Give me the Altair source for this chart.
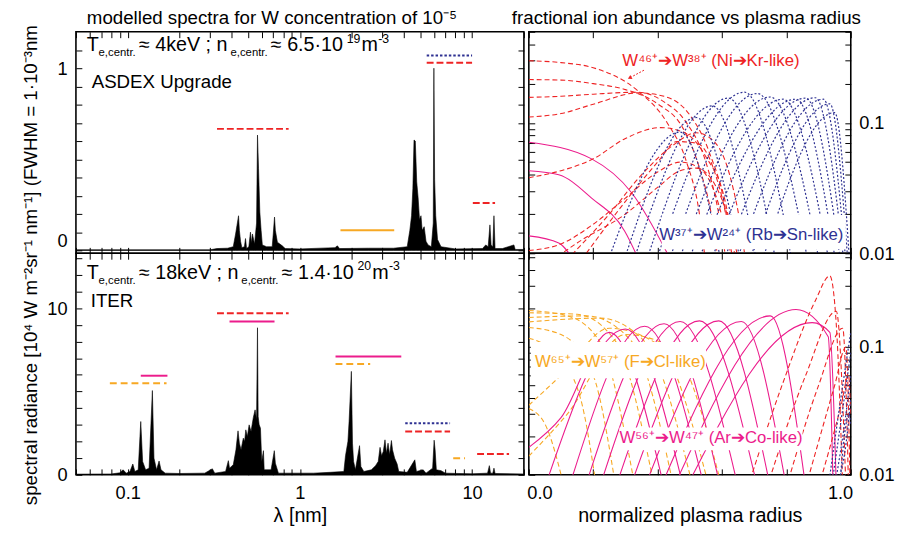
import altair as alt
import pandas as pd

FONT = "Liberation Sans"
RED = "#ee2324"
BLUE = "#2e3192"
MAGENTA = "#ec1c8c"
ORANGE = "#f7a823"

# ---------------- modelled spectra: (wavelength [nm], spectral radiance)
aug_spectrum = [
    (0.05, 0.003), (0.30, 0.003), (0.33, 0.01), (0.38, 0.012), (0.41, 0.02), (0.423, 0.09),
    (0.44, 0.19), (0.445, 0.11), (0.452, 0.05), (0.46, 0.015), (0.476, 0.02), (0.483, 0.065),
    (0.49, 0.01), (0.505, 0.02), (0.516, 0.10), (0.522, 0.04), (0.53, 0.09), (0.545, 0.035),
    (0.56, 0.15), (0.567, 0.633), (0.575, 0.448), (0.585, 0.21), (0.595, 0.11), (0.605, 0.03),
    (0.64, 0.02), (0.69, 0.02), (0.70, 0.09), (0.712, 0.183), (0.72, 0.11), (0.74, 0.045),
    (0.79, 0.025), (0.82, 0.01), (1.0, 0.008), (1.6, 0.015), (1.65, 0.025), (1.7, 0.01),
    (2.5, 0.012), (3.5, 0.012), (4.2, 0.02), (4.35, 0.11), (4.45, 0.19), (4.53, 0.34),
    (4.60, 0.606), (4.68, 0.60), (4.77, 0.376), (4.86, 0.288), (4.95, 0.17), (5.05, 0.19),
    (5.13, 0.11), (5.27, 0.13), (5.4, 0.05), (5.55, 0.03), (5.8, 0.02), (5.95, 0.15),
    (6.0, 1.0), (6.06, 0.39), (6.15, 0.19), (6.3, 0.06), (6.6, 0.02), (8.0, 0.008),
    (11.5, 0.01), (12.0, 0.03), (12.4, 0.02), (12.7, 0.14), (12.9, 0.03), (13.2, 0.02),
    (13.4, 0.19), (13.6, 0.01), (15.0, 0.01), (17.5, 0.03), (17.8, 0.005), (20.0, 0.005),
]
iter_spectrum = [
    (0.05, 0.04), (0.08, 0.05), (0.09, 0.12), (0.094, 0.3), (0.098, 0.1), (0.103, 0.2),
    (0.107, 0.65), (0.11, 0.2), (0.115, 0.3), (0.119, 3.2), (0.122, 0.8), (0.127, 0.3),
    (0.133, 0.4), (0.139, 5.06), (0.142, 1.0), (0.147, 0.3), (0.152, 0.83), (0.156, 0.3),
    (0.165, 0.1), (0.2, 0.08), (0.28, 0.1), (0.31, 0.36), (0.32, 0.1), (0.37, 0.2),
    (0.384, 0.85), (0.39, 0.4), (0.41, 0.6), (0.425, 1.5), (0.437, 2.64), (0.445, 1.9),
    (0.455, 1.5), (0.469, 2.2), (0.477, 2.0), (0.485, 2.7), (0.495, 2.3), (0.507, 3.0),
    (0.52, 2.6), (0.536, 3.43), (0.549, 3.9), (0.56, 3.3), (0.567, 8.83), (0.572, 3.5),
    (0.58, 3.0), (0.59, 2.8), (0.6, 0.8), (0.614, 1.45), (0.62, 0.3), (0.68, 0.3),
    (0.71, 1.45), (0.72, 0.7), (0.735, 0.4), (0.75, 0.1), (0.9, 0.1), (1.2, 0.1),
    (1.5, 0.15), (1.8, 0.2), (1.84, 1.15), (1.9, 2.0), (1.93, 3.2), (1.99, 6.21),
    (2.02, 1.9), (2.05, 0.8), (2.1, 0.3), (2.22, 1.75), (2.26, 0.5), (2.35, 0.2),
    (2.6, 0.3), (2.75, 0.55), (2.85, 0.8), (2.92, 1.65), (2.98, 1.15), (3.05, 1.4),
    (3.12, 2.1), (3.18, 1.3), (3.25, 1.9), (3.32, 1.2), (3.4, 2.06), (3.45, 1.5),
    (3.55, 1.0), (3.67, 0.65), (3.75, 0.2), (4.2, 0.15), (4.65, 0.9), (4.75, 0.2),
    (5.2, 0.3), (5.4, 0.1), (5.9, 0.4), (6.02, 2.08), (6.1, 1.5), (6.2, 0.3),
    (6.6, 0.25), (7.0, 0.1), (10.0, 0.06), (12.3, 0.1), (12.6, 0.55), (12.8, 0.1),
    (13.2, 0.1), (13.4, 0.4), (13.6, 0.08), (20.0, 0.05),
]

# ion-range markers: (lambda from, lambda to, level)
aug_red_dashed = [(0.33, 0.86, 0.667), (5.45, 10.0, 1.03), (10.1, 13.6, 0.26)]
aug_blue_dotted = [(5.45, 10.0, 1.07)]
aug_orange_solid = [(1.72, 3.53, 0.11)]
iter_red_dashed = [(0.33, 0.86, 9.7), (4.09, 7.45, 2.6), (10.7, 16.4, 1.25)]
iter_blue_dotted = [(4.09, 7.45, 3.1)]
iter_magenta_solid = [(0.119, 0.17, 5.95), (0.39, 0.712, 9.2), (1.61, 3.88, 7.1)]
iter_orange_dashed = [(0.0787, 0.168, 5.5), (1.61, 2.56, 6.65), (7.77, 9.1, 1.0)]

# ---------------- fractional abundance curves: list of (radius, fraction) per ion
aug_ni_kr = [
    [(0, 0.30), (0.1, 0.29), (0.2, 0.265), (0.34, 0.175), (0.43, 0.10), (0.49, 0.05), (0.53, 0.02), (0.55, 0.008)],
    [(0, 0.215), (0.1, 0.213), (0.2, 0.2), (0.3, 0.18), (0.4, 0.14), (0.48, 0.09), (0.53, 0.045), (0.57, 0.018), (0.59, 0.008)],
    [(0, 0.157), (0.1, 0.16), (0.2, 0.166), (0.34, 0.172), (0.42, 0.145), (0.49, 0.10), (0.55, 0.05), (0.59, 0.02), (0.615, 0.008)],
    [(0, 0.111), (0.1, 0.118), (0.2, 0.139), (0.34, 0.17), (0.42, 0.16), (0.5, 0.115), (0.56, 0.06), (0.61, 0.022), (0.635, 0.008)],
    [(0, 0.038), (0.1, 0.043), (0.2, 0.053), (0.3, 0.076), (0.41, 0.092), (0.48, 0.085), (0.55, 0.055), (0.61, 0.025), (0.645, 0.008)],
    [(0, 0.0105), (0.1, 0.0118), (0.2, 0.0167), (0.3, 0.0265), (0.4, 0.042), (0.47, 0.05), (0.53, 0.045), (0.58, 0.028), (0.62, 0.012), (0.635, 0.008)],
    [(0.05, 0.008), (0.15, 0.012), (0.3, 0.02), (0.4, 0.032), (0.47, 0.043), (0.52, 0.045), (0.58, 0.033), (0.63, 0.015), (0.655, 0.008)],
    [(0.1, 0.008), (0.25, 0.02), (0.35, 0.04), (0.45, 0.068), (0.52, 0.084), (0.58, 0.07), (0.63, 0.035), (0.66, 0.015), (0.675, 0.008)],
    [(0.15, 0.008), (0.3, 0.025), (0.4, 0.05), (0.46, 0.072), (0.52, 0.07), (0.58, 0.04), (0.62, 0.015), (0.635, 0.008)],
]
aug_rb_sn = [
    [(0.24, 0.008), (0.47, 0.085), (0.60, 0.008)],
    [(0.29, 0.008), (0.52, 0.11), (0.66, 0.008)],
    [(0.32, 0.008), (0.57, 0.135), (0.71, 0.008)],
    [(0.36, 0.008), (0.62, 0.155), (0.77, 0.008)],
    [(0.39, 0.008), (0.67, 0.172), (0.82, 0.008)],
    [(0.43, 0.008), (0.71, 0.168), (0.87, 0.008)],
    [(0.46, 0.008), (0.75, 0.158), (0.905, 0.008)],
    [(0.49, 0.008), (0.79, 0.152), (0.935, 0.008)],
    [(0.52, 0.008), (0.83, 0.152), (0.955, 0.008)],
    [(0.56, 0.008), (0.86, 0.155), (0.97, 0.008)],
    [(0.60, 0.008), (0.89, 0.156), (0.98, 0.008)],
    [(0.64, 0.008), (0.915, 0.152), (0.986, 0.008)],
    [(0.68, 0.008), (0.935, 0.14), (0.992, 0.008)],
    [(0.72, 0.008), (0.95, 0.12), (0.997, 0.008)],
]
aug_ar_co = [
    [(0, 0.071), (0.195, 0.053), (0.32, 0.029), (0.43, 0.01), (0.45, 0.008)],
    [(0, 0.043), (0.093, 0.04), (0.195, 0.0265), (0.297, 0.0149), (0.35, 0.008)],
    [(0, 0.0136), (0.093, 0.012), (0.15, 0.008)],
]
iter_f_cl = [
    [(0, 0.033), (0.05, 0.025), (0.11, 0.008)],
    [(0, 0.117), (0.08, 0.09), (0.16, 0.04), (0.21, 0.008)],
    [(0, 0.142), (0.1, 0.125), (0.2, 0.06), (0.27, 0.008)],
    [(0, 0.193), (0.12, 0.175), (0.22, 0.11), (0.33, 0.008)],
    [(0, 0.185), (0.15, 0.18), (0.27, 0.11), (0.39, 0.008)],
    [(0, 0.17), (0.18, 0.175), (0.32, 0.11), (0.45, 0.008)],
    [(0, 0.157), (0.22, 0.168), (0.36, 0.11), (0.51, 0.008)],
    [(0, 0.035), (0.1, 0.06), (0.25, 0.14), (0.4, 0.105), (0.56, 0.008)],
    [(0, 0.014), (0.12, 0.03), (0.3, 0.125), (0.44, 0.1), (0.6, 0.008)],
]
iter_ar_co = [
    [(0, 0.0164), (0.1, 0.028), (0.25, 0.13), (0.42, 0.008)],
    [(0.05, 0.008), (0.30, 0.138), (0.48, 0.008)],
    [(0.125, 0.008), (0.36, 0.145), (0.545, 0.008)],
    [(0.175, 0.008), (0.42, 0.152), (0.595, 0.008)],
    [(0.22, 0.008), (0.47, 0.158), (0.65, 0.008)],
    [(0.27, 0.008), (0.53, 0.16), (0.71, 0.008)],
    [(0.315, 0.008), (0.59, 0.16), (0.75, 0.008)],
    [(0.36, 0.008), (0.66, 0.158), (0.80, 0.008)],
    [(0.41, 0.008), (0.75, 0.175), (0.86, 0.008)],
    [(0.45, 0.008), (0.83, 0.196), (0.93, 0.12), (0.945, 0.008)],
    [(0.49, 0.008), (0.88, 0.155), (0.935, 0.13), (0.955, 0.008)],
]
iter_ni_kr = [
    [(0.68, 0.008), (0.79, 0.053), (0.89, 0.23), (0.935, 0.36), (0.955, 0.15), (0.975, 0.008)],
    [(0.74, 0.008), (0.86, 0.06), (0.955, 0.19), (0.985, 0.008)],
    [(0.80, 0.008), (0.9, 0.05), (0.975, 0.14), (0.993, 0.008)],
    [(0.86, 0.008), (0.95, 0.05), (0.985, 0.1), (0.998, 0.008)],
    [(0.9, 0.008), (0.97, 0.035), (0.993, 0.06), (1.0, 0.03)],
]
iter_rb_sn = [
    [(0.93, 0.008), (0.975, 0.05), (1.0, 0.13)],
    [(0.94, 0.008), (0.98, 0.04), (1.0, 0.09)],
    [(0.95, 0.008), (0.985, 0.03), (1.0, 0.06)],
    [(0.955, 0.008), (0.99, 0.022), (1.0, 0.04)],
    [(0.965, 0.008), (0.995, 0.03), (1.0, 0.025)],
]

# ---------------- tick positions
LAM_TICKS = [0.05, 0.06, 0.07, 0.08, 0.09, 0.1, 0.2, 0.3, 0.4, 0.5, 0.6, 0.7, 0.8, 0.9,
             1, 2, 3, 4, 5, 6, 7, 8, 9, 10, 20]
AUG_Y_TICKS = [0, 0.1, 0.2, 0.3, 0.4, 0.5, 0.6, 0.7, 0.8, 0.9, 1, 1.1]
ITER_Y_TICKS = [0, 1, 2, 3, 4, 5, 6, 7, 8, 9, 10, 11, 12, 13]
R_TICKS = [0, 0.2, 0.4, 0.6, 0.8, 1.0]
F_TICKS = [0.01, 0.02, 0.03, 0.04, 0.05, 0.06, 0.07, 0.08, 0.09, 0.1, 0.2, 0.3, 0.4, 0.5]

W_L, W_R, H = 455, 327, 225
TICK = 6
ONE = pd.DataFrame({"k": [0]})


def axis(orient, values, label_expr=None, title=None, **extra):
    kw = dict(orient=orient, values=values, tickSize=TICK, offset=-TICK, domain=False,
              grid=False, ticks=True, tickColor="black", tickWidth=1)
    if label_expr is None:
        kw["labels"] = False
    else:
        kw.update(labels=True, labelExpr=label_expr, labelFont=FONT, labelFontSize=18.5,
                  labelColor="black", labelPadding=9, labelOverlap=False)
        kw.update(extra)
    if title is None:
        kw["title"] = None
    else:
        kw.update(title=title, titleFont=FONT, titleFontSize=20, titleFontWeight="normal",
                  titleColor="black", titlePadding=4)
    return alt.Axis(**kw)


def txt(s, x, y, size, color="black", align="left", baseline="alphabetic", angle=0):
    mk = dict(text=s, font=FONT, fontSize=size, color=color, align=align, baseline=baseline)
    if angle:
        mk["angle"] = angle
    return alt.Chart(ONE).mark_text(**mk).encode(x=alt.value(x), y=alt.value(y))


def white_box(x1, x2, y1, y2):
    return alt.Chart(ONE).mark_rect(color="white").encode(
        x=alt.value(x1), x2=alt.value(x2), y=alt.value(y1), y2=alt.value(y2))


def seg_layer(segs, color, xs, ys, dash=None, width=2.0):
    df = pd.DataFrame(segs, columns=["a", "b", "v"])
    mk = dict(color=color, strokeWidth=width)
    if dash:
        mk["strokeDash"] = dash
    return alt.Chart(df).mark_rule(**mk).encode(
        x=alt.X("a:Q", scale=xs, axis=None), x2="b:Q",
        y=alt.Y("v:Q", scale=ys, axis=None))


def spectrum_panel(spec, ydom, yticks, ylab_expr, yflush, xlab_expr, xtitle, segs, extra):
    xs = alt.Scale(type="log", domain=[0.05, 20], nice=False)
    ys = alt.Scale(domain=ydom, nice=False)
    df = pd.DataFrame(spec, columns=["lam", "val"])
    yextra = {"labelFlush": 6} if yflush else {}
    base = alt.Chart(df).mark_area(color="black", stroke="black", strokeWidth=0.6, clip=True).encode(
        x=alt.X("lam:Q", scale=xs, axis=axis("bottom", LAM_TICKS, xlab_expr, xtitle)),
        y=alt.Y("val:Q", scale=ys, axis=axis("left", yticks, ylab_expr, None, **yextra)))
    frame = alt.Chart(pd.DataFrame({"lam": [1.0], "val": [0.5]})).mark_point(opacity=0).encode(
        x=alt.X("lam:Q", scale=xs, axis=axis("top", LAM_TICKS)),
        y=alt.Y("val:Q", scale=ys, axis=axis("right", yticks)))
    layers = [base, frame]
    for s, color, dash in segs:
        layers.append(seg_layer(s, color, xs, ys, dash))
    layers += extra
    return alt.layer(*layers).resolve_axis(x="independent", y="independent").properties(
        width=W_L, height=H)


def curve_df(curves):
    rows = [{"r": r, "f": f, "id": i} for i, c in enumerate(curves) for r, f in c]
    return pd.DataFrame(rows)


def abundance_panel(groups, ydom, xlab_expr, xtitle, extra):
    xs = alt.Scale(domain=[0, 1], nice=False)
    ys = alt.Scale(type="log", domain=ydom, nice=False)
    d = pd.DataFrame({"r": [0.5], "f": [0.05]})
    ylab = "datum.value == 0.1 ? '0.1' : datum.value == 0.01 ? '0.01' : ''"
    a1 = alt.Chart(d).mark_point(opacity=0).encode(
        x=alt.X("r:Q", scale=xs, axis=axis("bottom", R_TICKS, xlab_expr, xtitle,
                                           labelFlush=True, labelFlushOffset=2)),
        y=alt.Y("f:Q", scale=ys, axis=axis("left", F_TICKS)))
    a2 = alt.Chart(d).mark_point(opacity=0).encode(
        x=alt.X("r:Q", scale=xs, axis=axis("top", R_TICKS)),
        y=alt.Y("f:Q", scale=ys, axis=axis("right", F_TICKS, ylab, None, labelPadding=8)))
    layers = [a1, a2]
    for curves, color, dash, width in groups:
        mk = dict(color=color, strokeWidth=width, interpolate="monotone", clip=True)
        if dash:
            mk["strokeDash"] = dash
        layers.append(alt.Chart(curve_df(curves)).mark_line(**mk).encode(
            x=alt.X("r:Q", scale=xs, axis=None),
            y=alt.Y("f:Q", scale=ys, axis=None),
            detail="id:N"))
    layers += extra
    return alt.layer(*layers).resolve_axis(x="independent", y="independent").properties(
        width=W_R, height=H)


def plasma_line(y, y_sub, y_sup, temp, dens_mant, dens_exp, xs):
    return [
        txt("T", xs[0], y, 20),
        txt("e,centr.", xs[1], y_sub, 11.5),
        txt("\u2248 " + temp + " ; n", xs[2], y, 20),
        txt("e,centr.", xs[3], y_sub, 11.5),
        txt("\u2248 " + dens_mant + "\u00b710", xs[4], y, 20),
        txt(dens_exp, xs[5], y_sup, 12.5),
        txt("m", xs[6], y, 20),
        txt("-3", xs[7], y_sup, 12.5),
    ]


# ---------------- panels
tl_extra = [
    txt("modelled spectra for W concentration of 10\u207b\u2075", 199, -8, 19, align="center"),
    *plasma_line(20, 25, 11, "4keV", "6.5", "19", [11, 23, 64, 157, 198, 275, 290, 307]),
    txt("ASDEX Upgrade", 16, 57, 19),
]
top_left = spectrum_panel(
    aug_spectrum, [-0.016, 1.2], AUG_Y_TICKS,
    "datum.value == 0 ? '0' : datum.value == 1 ? '1' : ''", True, None, None,
    [(aug_red_dashed, RED, [7, 3]), (aug_blue_dotted, BLUE, [2.5, 2]),
     (aug_orange_solid, ORANGE, None)],
    tl_extra)

bl_extra = [
    *plasma_line(26, 31, 17, "18keV", "1.4", "20", [11, 23, 64, 168, 209, 286, 301, 318]),
    txt("ITER", 15, 55, 19),
    txt("spectral radiance [10\u2074 W m\u207b\u00b2sr\u207b\u00b9 nm\u207b\u00b9] (FWHM = 1\u00b710\u207b\u00b3nm",
        -46, 12, 19, align="center", baseline="middle", angle=270),
]
bottom_left = spectrum_panel(
    iter_spectrum, [0, 13.3], ITER_Y_TICKS,
    "datum.value == 0 ? '0' : datum.value == 10 ? '10' : ''", False,
    "datum.value == 0.1 ? '0.1' : datum.value == 1 ? '1' : datum.value == 10 ? '10' : ''",
    "\u03bb [nm]",
    [(iter_red_dashed, RED, [7, 3]), (iter_blue_dotted, BLUE, [2.5, 2]),
     (iter_orange_dashed, ORANGE, [7, 4]), (iter_magenta_solid, MAGENTA, None)],
    bl_extra)

tr_extra = [
    white_box(135, 322, 186, 221),
    txt("W\u2074\u2076\u207a\u2794W\u00b3\u2078\u207a (Ni\u2794Kr-like)", 185, 30, 17, RED, "center", "middle"),
    alt.Chart(ONE).mark_rule(color=RED, strokeWidth=1, strokeDash=[2, 1.5]).encode(
        x=alt.value(117), x2=alt.value(104), y=alt.value(39), y2=alt.value(46)),
    alt.Chart(ONE).mark_point(shape="triangle", filled=True, color=RED, size=22, angle=242, opacity=1).encode(
        x=alt.value(103), y=alt.value(46.5)),
    txt("W\u00b3\u2077\u207a\u2794W\u00b2\u2074\u207a (Rb\u2794Sn-like)", 226, 206, 17, BLUE, "center", "middle"),
    txt("fractional ion abundance vs plasma radius", 160, -8, 19, align="center"),
]
top_right = abundance_panel(
    [(aug_ar_co, MAGENTA, None, 1.1), (aug_ni_kr, RED, [5, 3], 1.1), (aug_rb_sn, BLUE, [2, 2], 1.2)],
    [0.01, 0.5], None, None, tr_extra)

br_extra = [
    white_box(2, 180, 90, 127),
    white_box(92, 278, 177, 200),
    txt("W\u2076\u2075\u207a\u2794W\u2075\u2077\u207a (F\u2794Cl-like)", 93, 110, 17, ORANGE, "center", "middle"),
    txt("W\u2075\u2076\u207a\u2794W\u2074\u2077\u207a (Ar\u2794Co-like)", 185, 188, 17, MAGENTA, "center", "middle"),
]
bottom_right = abundance_panel(
    [(iter_f_cl, ORANGE, [5, 3], 1.1), (iter_ar_co, MAGENTA, None, 1.1),
     (iter_ni_kr, RED, [5, 3], 1.1), (iter_rb_sn, BLUE, [2, 2], 1.2)],
    [0.01, 0.54],
    "datum.value == 0 ? '0.0' : datum.value == 1 ? '1.0' : ''", "normalized plasma radius",
    br_extra)

chart = alt.concat(
    top_left, top_right, bottom_left, bottom_right,
    columns=2, spacing={"row": 0, "column": 5}, bounds="flush",
).properties(
    padding={"left": 13, "top": -4, "right": 5, "bottom": 5}
).configure_view(stroke="black", strokeWidth=1.6)

chart.save("out.html", embed_options={"renderer": "svg", "actions": False})
